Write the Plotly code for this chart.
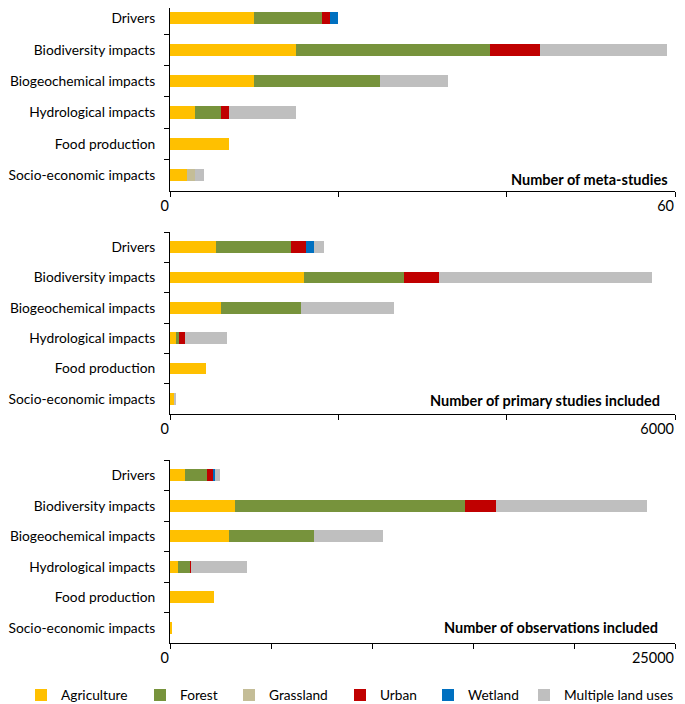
import plotly.graph_objects as go
from plotly.subplots import make_subplots

# Categories, top to bottom
categories = ["Drivers", "Biodiversity impacts", "Biogeochemical impacts",
              "Hydrological impacts", "Food production", "Socio-economic impacts"]

land_uses = ["Agriculture", "Forest", "Grassland", "Urban", "Wetland", "Multiple land uses"]

# Number of meta-studies
meta_agriculture = [10, 15, 10, 3, 7, 2]
meta_forest = [8, 23, 15, 3, 0, 0]
meta_grassland = [0, 0, 0, 0, 0, 1]
meta_urban = [1, 6, 0, 1, 0, 0]
meta_wetland = [1, 0, 0, 0, 0, 0]
meta_multiple = [0, 15, 8, 8, 0, 1]

# Number of primary studies included
primary_agriculture = [545, 1593, 610, 72, 433, 56]
primary_forest = [890, 1188, 943, 40, 0, 0]
primary_grassland = [0, 0, 0, 0, 0, 0]
primary_urban = [176, 413, 0, 69, 0, 0]
primary_wetland = [97, 0, 0, 0, 0, 0]
primary_multiple = [116, 2536, 1104, 493, 0, 12]

# Number of observations included
obs_agriculture = [759, 3205, 2935, 388, 2159, 84]
obs_forest = [1063, 11387, 4201, 624, 0, 0]
obs_grassland = [0, 0, 0, 0, 0, 0]
obs_urban = [303, 1569, 0, 51, 0, 0]
obs_wetland = [119, 0, 0, 0, 0, 0]
obs_multiple = [253, 7456, 3390, 2733, 0, 0]

COLORS = {
    "Agriculture": "#FFC000",
    "Forest": "#77933C",
    "Grassland": "#C4BD97",
    "Urban": "#C00000",
    "Wetland": "#0070C0",
    "Multiple land uses": "#BFBFBF",
}

panels = [
    ("Number of meta-studies", 60, 20,
     [meta_agriculture, meta_forest, meta_grassland, meta_urban, meta_wetland, meta_multiple]),
    ("Number of primary studies included", 6000, 2000,
     [primary_agriculture, primary_forest, primary_grassland, primary_urban, primary_wetland, primary_multiple]),
    ("Number of observations included", 25000, 5000,
     [obs_agriculture, obs_forest, obs_grassland, obs_urban, obs_wetland, obs_multiple]),
]

FONT = "Lato"
FS = 14.5
W, H = 677, 696
L, R = 162, 10
PW = W - L - R
# panel pixel extents (top, bottom) and y ranges
extents = [(0, 183), (224, 406), (452, 635)]
yranges = [[5.5, -0.328], [5.5, -0.5], [5.5, -0.5]]
title_x = [662, 654, 652]
title_y = [172, 392, 619]
# left edge of each legend box, pixels
legend_left = [13, 132, 221, 332, 420, 516]

fig = make_subplots(rows=3, cols=1)

for row, (title, xmax, step, series) in enumerate(panels, 1):
    for i, (name, vals) in enumerate(zip(land_uses, series)):
        fig.add_trace(
            go.Bar(
                y=categories, x=vals, orientation="h", name=name,
                marker=dict(color=COLORS[name], line=dict(width=0)),
                legendgroup=name, showlegend=(row == 1),
                legend="legend" if i == 0 else f"legend{i + 1}",
            ),
            row=row, col=1,
        )
    ticks = list(range(0, xmax + 1, step))
    fig.update_xaxes(
        domain=[0, 1],
        range=[0, xmax], tickvals=ticks,
        ticktext=[str(t) if t in (0, xmax) else "" for t in ticks],
        showline=True, linecolor="black", linewidth=1,
        ticks="outside", ticklen=5, tickcolor="black", ticklabelstandoff=2,
        ticklabelposition="outside left", ticklabeloverflow="allow",
        showgrid=False, zeroline=False, automargin=False,
        tickfont=dict(family=FONT, size=FS, color="black"),
        row=row, col=1,
    )
    top, bot = extents[row - 1]
    fig.update_yaxes(
        range=yranges[row - 1], domain=[1 - bot / H, 1 - top / H],
        showline=True, linecolor="black", linewidth=1,
        ticks="outside", ticklen=5, tickcolor="black", tickson="boundaries",
        ticklabelstandoff=11, showgrid=False, automargin=False,
        tickfont=dict(family=FONT, size=13.8, color="black"),
        row=row, col=1,
    )
    fig.add_annotation(
        x=(title_x[row - 1] - L) / PW, y=1 - title_y[row - 1] / H,
        xref="paper", yref="paper", xanchor="right", yanchor="middle",
        text=f"<b>{title}</b>", showarrow=False,
        font=dict(family=FONT, size=FS, color="black"),
    )

legends = {}
for i, px in enumerate(legend_left):
    key = "legend" if i == 0 else f"legend{i + 1}"
    legends[key] = dict(
        orientation="h", xref="paper", x=(px - L) / PW, xanchor="left",
        yref="paper", y=1 - 687 / H, yanchor="middle",
        font=dict(family=FONT, size=13.7, color="black"),
        bgcolor="rgba(0,0,0,0)", itemwidth=30,
    )

fig.update_layout(
    width=W, height=H,
    barmode="stack", bargap=0.61,
    paper_bgcolor="white", plot_bgcolor="white",
    margin=dict(l=L, r=R, t=0, b=0, autoexpand=False),
    font=dict(family=FONT, size=FS, color="black"),
    **legends,
)

fig.write_html("out.html")
